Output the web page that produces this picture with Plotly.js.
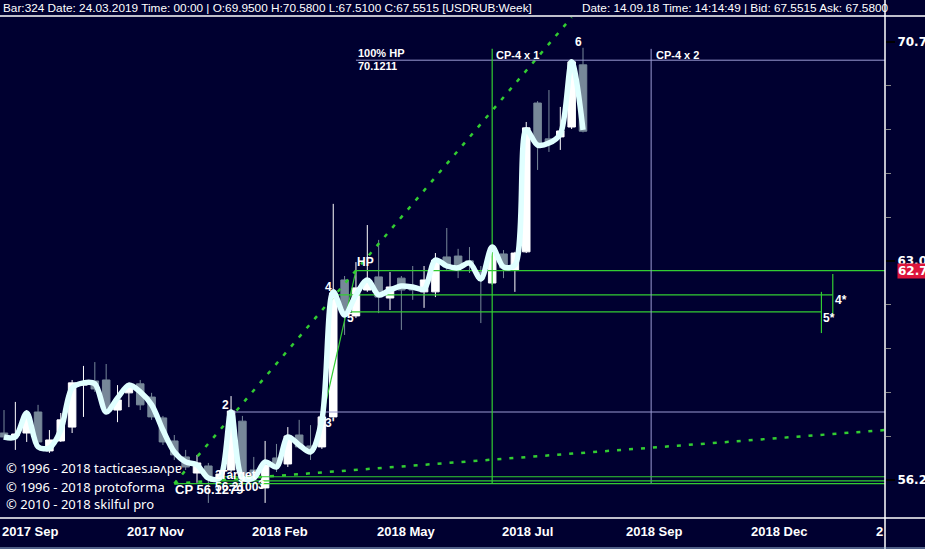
<!DOCTYPE html>
<html><head><meta charset="utf-8">
<script src="https://cdn.plot.ly/plotly-3.0.1.min.js"></script>
<style>html,body{margin:0;padding:0;background:#000030;}#chart{width:925px;height:549px;}</style>
</head><body><div id="chart"></div>
<script>
// ---- DATA (weekly USDRUB candles, bar index on x) ----
const barNo = [0,1,2,3,4,5,6,7,8,9,10,11,12,13,14,15,16,17,18,19,20,21,22,23,24,25,26,27,28,29,30,31,32,33,34,35,36,37,38,39,40,41,42,43,44,45,46,47,48,49,50,51];
const openP  = [57.64,57.55,57.64,58.28,57.10,57.40,57.82,59.11,59.24,59.27,58.34,58.87,59.15,58.74,58.10,57.40,56.92,56.44,56.65,56.29,56.53,58.00,56.53,56.00,56.89,56.71,57.58,57.25,57.22,58.13,62.47,61.30,62.14,62.57,61.88,62.53,62.27,62.08,62.08,63.23,63.26,63.10,62.73,62.37,63.33,62.80,63.40,68.56,67.28,67.35,67.70,69.95];
const highP  = [58.34,58.59,58.34,58.50,57.73,58.25,59.27,59.71,59.83,59.77,59.11,59.18,59.27,58.87,58.16,57.58,57.13,56.98,56.74,56.53,58.77,58.16,56.92,57.40,57.31,57.82,58.04,57.88,58.19,65.02,62.60,63.06,64.30,63.80,62.73,62.60,62.93,62.93,63.36,64.20,63.50,63.56,62.93,63.63,63.46,63.40,67.88,68.63,69.03,68.42,70.13,70.58];
const lowP   = [57.43,57.13,57.37,57.31,57.04,57.37,57.64,58.13,58.90,58.22,57.97,58.43,58.34,58.04,57.28,56.83,56.53,56.15,55.56,56.18,56.47,56.18,56.23,55.56,56.47,56.62,57.16,56.83,57.16,58.10,60.69,61.23,62.08,61.39,61.49,60.85,61.82,61.56,61.91,62.80,62.53,62.70,61.07,62.31,62.53,62.08,63.36,66.19,66.82,66.89,67.63,67.51];
const closeP = [57.52,57.61,58.19,57.37,57.43,58.04,59.18,59.21,58.99,58.28,58.65,59.08,58.50,58.13,57.37,56.98,56.62,56.74,56.29,56.41,58.31,56.26,56.35,56.68,56.65,57.55,57.22,57.07,58.13,62.04,61.39,62.21,62.37,61.91,62.24,62.14,62.14,62.47,63.13,62.90,62.90,62.96,62.50,63.53,62.87,63.36,67.67,67.13,67.13,67.56,70.06,67.5515];
const smoothLine = [57.52,57.52,58.25,57.22,57.19,57.73,59.02,59.18,59.15,58.28,58.71,59.11,58.90,58.50,57.73,57.07,56.77,56.68,56.29,56.29,58.28,56.29,56.29,56.77,56.62,57.52,57.28,57.07,58.04,62.08,61.33,61.98,62.47,61.98,62.14,62.27,62.24,62.17,63.13,62.93,62.87,63.03,62.50,63.56,62.90,62.96,67.60,67.06,67.13,67.45,70.06,67.60];

// levels / projection points
const cpBar = 15, cpPrice = 56.1279;
const steepEnd = [50, 71.72];
const shallowEnd = [78, 57.74];
const p3Bar = 28, p3Price = 58.04;
const hpBar = 31, hpPrice = 62.78;
const p2Bar = 20, p2Level = 58.28;
const p4Bar = 29, p4Level = 61.98, p4StarBar = 73, p4StarRange = [62.67, 61.30];
const p5Bar = 30, p5Level = 61.43, p5StarBar = 72, p5StarRange = [62.08, 60.75];
const hp100 = 70.1211;
const cpx1Bar = 43, cpx2Bar = 57, cpxRange = [70.54, 56.13];
const targetPrice = 56.21, level3 = 56.33;
const lastPriceTag = 62.78;

const xTickBars = [0,11,22,33,44,55,66,77];
const xTickText = ["2017 Sep","2017 Nov","2018 Feb","2018 May","2018 Jul","2018 Sep","2018 Dec","2"];
const yMajor = [56.23,63.09,70.79];
const yMajorText = ["56.23","63.09","70.79"];
const yMinor = [57.54,58.88,60.26,61.66,64.57,66.07,67.61,69.18];

// ---- layout helpers (pixel geometry of the plot box) ----
const W=925,H=549,PL=0,PR=885,PT=16,PB=518;
const px2paperX = px => (px-PL)/(PR-PL);
const px2paperY = py => (PB-py)/(PB-PT);
const L10 = v => Math.log10(v);

const GREEN='#32cd32', LAV='#9a9ad2';
const traces = [];
traces.push({type:'candlestick',x:barNo,open:openP,high:highP,low:lowP,close:closeP,
  increasing:{line:{color:'#ffffff',width:1},fillcolor:'#ffffff'},
  decreasing:{line:{color:'#778899',width:1},fillcolor:'#778899'},
  whiskerwidth:0,hoverinfo:'skip',showlegend:false});
function seg(x,y,color,width,dash){traces.push({type:'scatter',mode:'lines',x:x,y:y,line:{color:color,width:width,dash:dash||'solid'},hoverinfo:'skip',showlegend:false});}
seg([cpBar,steepEnd[0]],[cpPrice,steepEnd[1]],GREEN,2.5,'4px,8px');
seg([cpBar,shallowEnd[0]],[cpPrice,shallowEnd[1]],GREEN,2.5,'4px,8px');
seg([p3Bar,hpBar],[p3Price,hpPrice],GREEN,1.2);
seg([hpBar,80],[hpPrice,hpPrice],GREEN,1.2);
seg([p4Bar,p4StarBar],[p4Level,p4Level],GREEN,1.2);
seg([p4StarBar,p4StarBar],p4StarRange,GREEN,1.2);
seg([p5Bar,p5StarBar],[p5Level,p5Level],GREEN,1.2);
seg([p5StarBar,p5StarBar],p5StarRange,GREEN,1.2);
seg([p2Bar,80],[p2Level,p2Level],LAV,1);
seg([hpBar,80],[hp100,hp100],LAV,1);
seg([cpx1Bar,cpx1Bar],cpxRange,GREEN,1.2);
seg([cpx2Bar,cpx2Bar],cpxRange,LAV,1);
seg([cpBar,80],[cpPrice,cpPrice],GREEN,1.2);
seg([18.3,80],[targetPrice,targetPrice],GREEN,1.2);
seg([18.8,80],[level3,level3],GREEN,1.2);
traces.push({type:'scatter',mode:'lines',x:barNo,y:smoothLine,line:{color:'#e0ffff',width:5.5,shape:'spline',smoothing:0.9},hoverinfo:'skip',showlegend:false});

const ann = [];
const LBL = {family:'Liberation Sans, Arial, sans-serif',size:12,color:'#ffffff',weight:'bold'};
function dtext(t,xb,price,xa,size){ann.push({text:t,x:xb,y:L10(price),xref:'x',yref:'y',showarrow:false,xanchor:xa||'center',yanchor:'middle',font:Object.assign({},LBL,size?{size:size}:{})});}
dtext('2',19.55,58.50);
dtext('4',28.54,62.24);
dtext('5',30.48,61.23);
dtext("3'",28.7,57.94);
dtext('HP',30.9,63.06,'left');
dtext('6',50.56,70.79);
dtext('4*',73.7,61.82);
dtext('5*',72.7,61.23);
dtext('100% HP',31.0,70.39,'left',11);
dtext('70.1211',31.0,69.91,'left',11);
dtext('CP-4 x 1',43.15,70.31,'left',11);
dtext('CP-4 x 2',57.25,70.31,'left',11);
dtext('CP 56.1279',14.9,55.94,'left',13);
dtext('2',18.45,56.39,'left');
dtext('Target',18.85,56.39,'left');
dtext('56.2100',18.4,56.03,'left');
dtext('3',22.2,56.08,'left');

// x tick labels (left aligned at bar position)
xTickBars.forEach((b,i)=>ann.push({text:xTickText[i],x:b-0.352,y:px2paperY(531),xref:'x',yref:'paper',showarrow:false,xanchor:'left',yanchor:'middle',
  font:{family:'Liberation Sans Narrow, Arial Narrow, sans-serif',size:13,color:'#ffffff',weight:'bold'}}));
// header
const HF={family:'Liberation Sans Narrow, Arial Narrow, sans-serif',size:11.8,color:'#ffffff'};
ann.push({text:'Bar:324 Date: 24.03.2019 Time: 00:00 | O:69.9500 H:70.5800 L:67.5100 C:67.5515 [USDRUB:Week]',x:px2paperX(1),y:px2paperY(8),xref:'paper',yref:'paper',showarrow:false,xanchor:'left',yanchor:'middle',font:HF});
ann.push({text:'Date: 14.09.18 Time: 14:14:49 | Bid: 67.5515 Ask: 67.5800',x:px2paperX(580),y:px2paperY(8),xref:'paper',yref:'paper',showarrow:false,xanchor:'left',yanchor:'middle',font:HF});
// copyrights
const CF={family:'Noto Sans, sans-serif',size:13,color:'#ffffff'};
[['© 1996 - 2018 tacticaesɹəʌpɐ',468],['© 1996 - 2018 protoforma',487],['© 2010 - 2018 skilful pro',504]].forEach(c=>ann.push({text:c[0],x:px2paperX(4),y:px2paperY(c[1]),xref:'paper',yref:'paper',showarrow:false,xanchor:'left',yanchor:'middle',font:CF}));
// last price tag
ann.push({text:lastPriceTag.toFixed(2),x:px2paperX(897),y:L10(lastPriceTag),xref:'paper',yref:'y',showarrow:false,xanchor:'left',yanchor:'middle',bgcolor:'#dc143c',borderpad:0,
  font:{family:'DejaVu Sans, sans-serif',size:12,color:'#ffffff',weight:'bold'}});

const shapes = [
  {type:'line',xref:'paper',yref:'paper',x0:px2paperX(0),x1:px2paperX(925),y0:px2paperY(16),y1:px2paperY(16),line:{color:'#ffffff',width:1.5}},
  {type:'line',xref:'paper',yref:'paper',x0:px2paperX(0),x1:px2paperX(925),y0:px2paperY(518),y1:px2paperY(518),line:{color:'#ffffff',width:1.5}},
  {type:'line',xref:'paper',yref:'paper',x0:px2paperX(885),x1:px2paperX(885),y0:px2paperY(0),y1:px2paperY(549),line:{color:'#ffffff',width:1.5}},
  {type:'line',xref:'paper',yref:'paper',x0:px2paperX(0),x1:px2paperX(925),y0:px2paperY(548),y1:px2paperY(548),line:{color:'#a0c0e0',width:1}}
];

const layout = {
  width:W,height:H,margin:{l:PL,r:W-PR,t:PT,b:H-PB},
  paper_bgcolor:'#000030',plot_bgcolor:'#000030',showlegend:false,boxgap:0.22,boxgroupgap:0.15,
  xaxis:{range:[-0.352,77.6],showgrid:false,zeroline:false,showticklabels:false,ticks:'',rangeslider:{visible:false},showline:false,fixedrange:true},
  yaxis:{type:'log',range:[1.74132,1.85594],side:'right',showgrid:false,zeroline:false,showline:false,
    tickmode:'array',tickvals:yMajor,ticktext:yMajorText,ticks:'outside',ticklen:9,tickcolor:'#000000',tickwidth:2,
    tickfont:{family:'DejaVu Sans, sans-serif',size:12,color:'#ffffff',weight:'bold'},
    minor:{tickmode:'array',tickvals:yMinor,ticks:'outside',ticklen:5,tickcolor:'#8a8a8a',tickwidth:1},fixedrange:true},
  annotations:ann,shapes:shapes
};
Plotly.newPlot('chart',traces,layout,{staticPlot:true,displayModeBar:false});
</script></body></html>
